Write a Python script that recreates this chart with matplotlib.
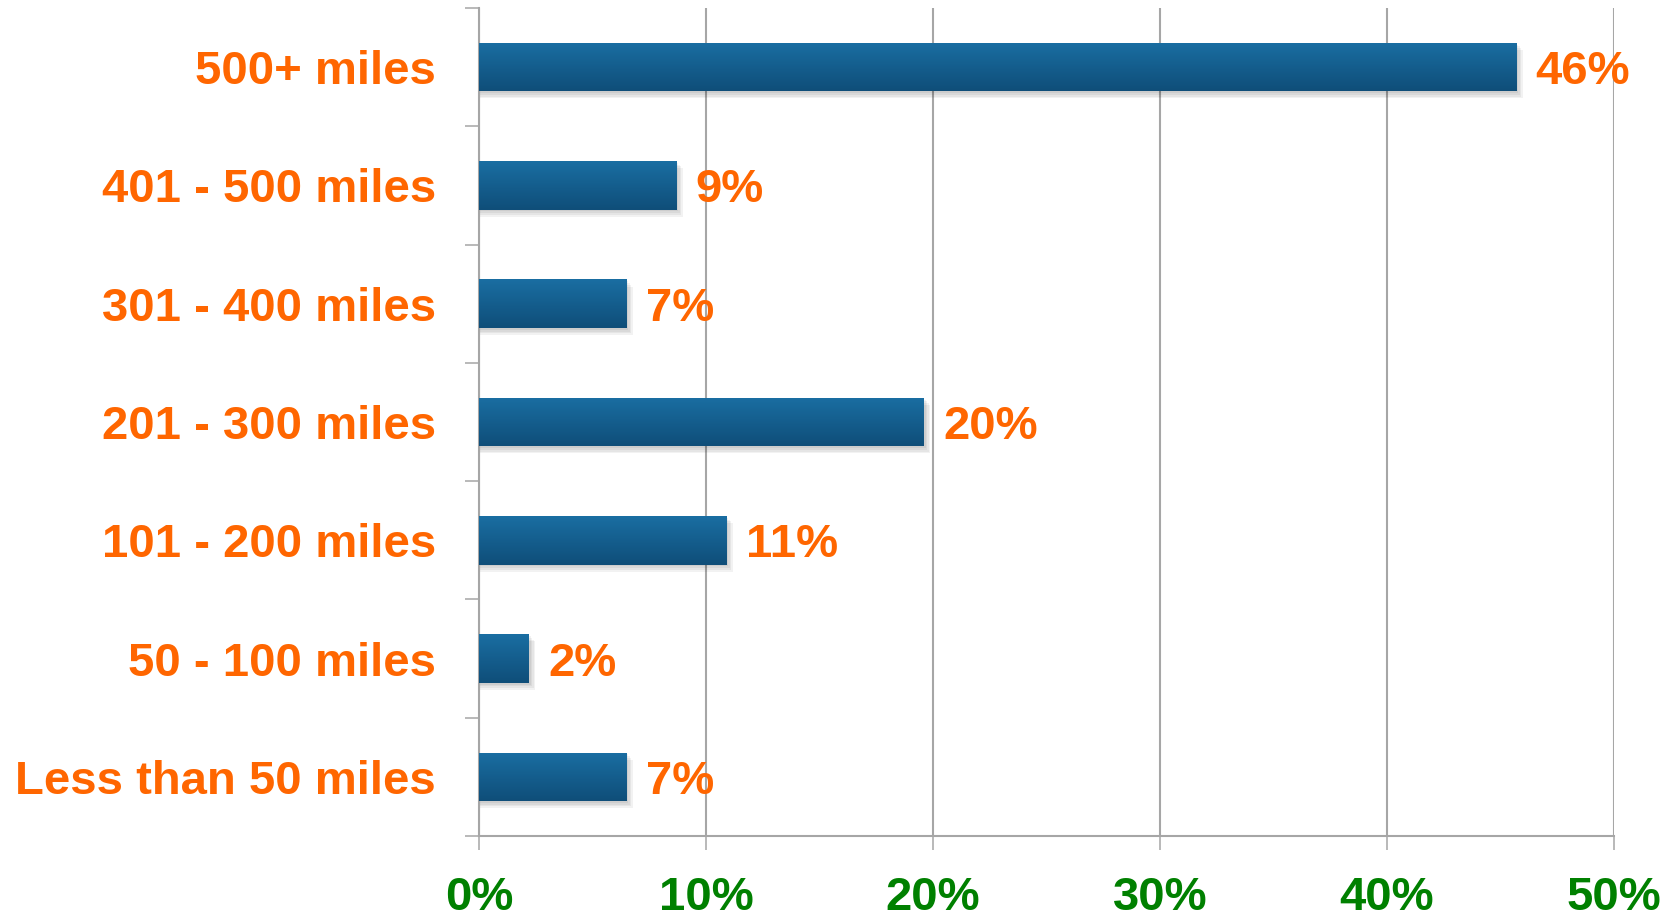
import numpy as np
import matplotlib.pyplot as plt
from matplotlib.colors import LinearSegmentedColormap

categories = ["Less than 50 miles", "50 - 100 miles", "101 - 200 miles",
              "201 - 300 miles", "301 - 400 miles", "401 - 500 miles", "500+ miles"]
values = [6.5, 2.2, 10.9, 19.6, 6.5, 8.7, 45.7]
labels = ["7%", "2%", "11%", "20%", "7%", "9%", "46%"]
xticks = [0, 10, 20, 30, 40, 50]

orange = "#FF6600"
green = "#008000"
grey = "#A6A6A6"

plt.rcParams['font.family'] = ['Liberation Sans', 'DejaVu Sans']
plt.rcParams['font.weight'] = 'bold'

fig = plt.figure(figsize=(16.75, 9.18), dpi=100)
ax = fig.add_axes([0.286, 0.0893, 0.9636 - 0.286, 0.9913 - 0.0893])

y = np.arange(len(categories))
h = 0.41

# soft shadow under each bar
for yi, v in zip(y, values):
    for k in range(1, 5):
        ax.barh(yi - 0.015 * k, v + 0.07 * k, height=h, left=0, color="black",
                alpha=0.05, zorder=2, linewidth=0)

bars = ax.barh(y, values, height=h, color="#17659A", zorder=3, linewidth=0)

# vertical gradient inside the bars, lighter at the top
cmap = LinearSegmentedColormap.from_list("bar", ["#1A6EA2", "#0F4E79"])
grad = np.linspace(0, 1, 64).reshape(-1, 1)
for b in bars:
    x0, y0 = b.get_x(), b.get_y()
    w, hh = b.get_width(), b.get_height()
    im = ax.imshow(grad, cmap=cmap, aspect="auto", origin="upper",
                   extent=(x0, x0 + w, y0, y0 + hh),
                   zorder=4, interpolation="bilinear")
    im.set_clip_path(b)

for yi, v, lab in zip(y, values, labels):
    ax.text(v + 0.85, yi, lab, color=orange, fontsize=34, fontweight="bold",
            va="center_baseline", ha="left", zorder=5)

ax.set_xlim(0, 50)
ax.set_ylim(-0.5, len(categories) - 0.5)
ax.set_xticks(xticks)
ax.set_xticklabels([f"{t}%" for t in xticks], color=green, fontsize=34, fontweight="bold")
ax.set_yticks(np.arange(len(categories) + 1) - 0.5)
ax.set_yticklabels([])
ax.set_yticks(y, minor=True)
ax.set_yticklabels(categories, minor=True, color=orange, fontsize=34, fontweight="bold",
                   va="center_baseline")
ax.tick_params(axis="y", which="major", length=10, width=1.1, color=grey, direction="out")
ax.tick_params(axis="y", which="minor", length=0, pad=31)
ax.tick_params(axis="x", length=10, width=1.1, color=grey, direction="out", pad=19)
ax.xaxis.grid(True, color=grey, linewidth=1.5, zorder=0)
ax.set_axisbelow(True)
for s in ["top", "right"]:
    ax.spines[s].set_visible(False)
for s in ["left", "bottom"]:
    ax.spines[s].set_color(grey)
    ax.spines[s].set_linewidth(1.5)

plt.savefig("out.png", dpi=100)
plt.close()
